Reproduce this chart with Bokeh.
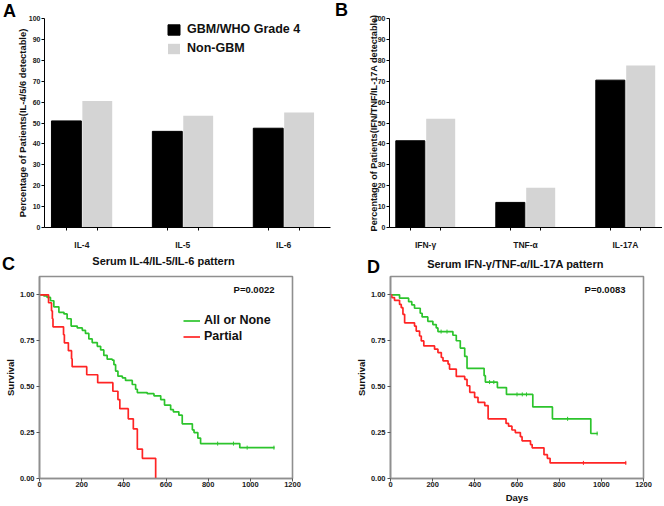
import numpy as np
from bokeh.plotting import figure
from bokeh.layouts import column, row
from bokeh.models import (Range1d, FixedTicker, Label, Legend, LegendItem,
                          NumeralTickFormatter)
from bokeh.embed import file_html
from bokeh.resources import INLINE

FONT = "Liberation Sans"

# ---------------- data ----------------
cats_a = ["IL-4", "IL-5", "IL-6"]
gbm_a = [51.0, 46.0, 47.5]
non_a = [60.5, 53.5, 55.0]

cats_b = ["IFN-γ", "TNF-α", "IL-17A"]
gbm_b = [41.5, 12.0, 70.5]
non_b = [52.0, 19.0, 77.5]

series_names = ["GBM/WHO Grade 4", "Non-GBM"]

# Panel C : Serum IL-4/IL-5/IL-6 pattern
c_all_t = [0, 20, 36, 52, 68, 92, 116, 131, 150, 179, 203, 218, 234, 250, 274, 290,
           305, 321, 345, 353, 361, 372, 393, 408, 440, 456, 464, 511, 543, 575, 593,
           622, 635, 661, 677, 725, 733, 751, 764, 950, 1115]
c_all_s = [1.0, .995, .986, .968, .935, .905, .896, .87, .83, .82, .807, .79, .76, .74,
           .72, .70, .67, .65, .645, .62, .585, .557, .548, .534, .512, .486, .468, .462,
           .45, .43, .40, .375, .363, .345, .298, .265, .25, .22, .19, .168, .168]
c_part_t = [0, 43, 57, 61, 64, 114, 118, 137, 152, 155, 224, 276, 348, 372, 381, 421,
            445, 464, 488, 551]
c_part_s = [1.0, .957, .913, .87, .826, .783, .739, .696, .652, .609, .565, .522, .475,
            .43, .38, .325, .27, .16, .11, 0.0]
c_all_cens_t = [845, 920, 985, 1112]
c_all_cens_s = [.19, .19, .168, .168]

# Panel D : Serum IFN-γ/TNF-α/IL-17A pattern
d_all_t = [0, 43, 86, 101, 114, 141, 150, 177, 201, 217, 225, 296, 312, 331, 352, 363,
           444, 450, 507, 550, 675, 768, 950, 983]
d_all_s = [1.0, .982, .963, .945, .927, .90, .88, .856, .838, .82, .80, .78, .75, .71,
           .665, .60, .56, .525, .495, .458, .39, .325, .245, .245]
d_part_t = [0, 6, 19, 43, 51, 59, 67, 114, 122, 138, 146, 158, 209, 225, 241, 249, 273,
            280, 312, 352, 363, 376, 399, 415, 447, 463, 548, 560, 576, 592, 616, 624,
            664, 672, 728, 744, 757, 1118]
d_part_s = [1.0, .985, .97, .948, .93, .894, .848, .83, .803, .776, .749, .722, .704,
            .686, .659, .641, .623, .596, .556, .54, .505, .469, .442, .415, .397, .325,
            .30, .285, .264, .25, .228, .205, .185, .167, .13, .11, .085, .085]
d_all_cens_t = [240, 268, 470, 490, 600, 625, 645, 840, 980]
d_all_cens_s = [.80, .80, .525, .525, .458, .458, .458, .325, .245]
d_part_cens_t = [915, 1116]
d_part_cens_s = [.085, .085]

group_names = ["All or None", "Partial"]
p_values = ["P=0.0022", "P=0.0083"]

GREEN = "#2cc42c"
RED = "#ff2424"
GREY_BAR = "#d4d4d4"

H1 = 252
H2 = 253


def px_to_data(frame, xr, yr, cx, cy):
    """Convert a figure-local pixel position to data coordinates."""
    left, top, w, h = frame
    x = xr[0] + (cx - left) / w * (xr[1] - xr[0])
    y = yr[1] - (cy - top) / h * (yr[1] - yr[0])
    return x, y


def style_text_axis(ax, tick_size):
    ax.major_label_text_font = FONT
    ax.major_label_text_font_style = "bold"
    ax.major_label_text_font_size = tick_size
    ax.major_label_text_color = "#1a1a1a"
    ax.axis_label_text_font = FONT
    ax.axis_label_text_font_style = "bold"
    ax.axis_label_text_color = "#111111"


def letter_label(text, x, y):
    return Label(x=x, y=y, text=text, text_font=FONT, text_font_style="bold",
                 text_font_size="18px", text_baseline="middle", text_align="center",
                 text_color="#000000")


def bar_panel(cats, gbm, non, ylabel, ylabel_size, xr, width, bl, br, bw, off, letter,
              letter_pos, label_standoff, legend=False):
    bt, bb = 18, H1 - 227
    yr = (0, 100)
    p = figure(width=width, height=H1, x_range=Range1d(*xr), y_range=Range1d(*yr),
               output_backend="svg", toolbar_location=None,
               min_border_left=bl, min_border_right=br, min_border_top=bt,
               min_border_bottom=bb)
    p.grid.visible = False
    p.outline_line_color = None
    x = np.arange(len(cats), dtype=float)
    r1 = p.vbar(x=x - off, top=gbm, width=bw, fill_color="black", line_color="black",
                line_width=1)
    r2 = p.vbar(x=x + off, top=non, width=bw, fill_color=GREY_BAR, line_color=None)

    xa = p.xaxis[0]
    xa.ticker = FixedTicker(ticks=list(x), minor_ticks=list(x - off) + list(x + off))
    xa.major_label_overrides = {int(i): c for i, c in enumerate(cats)}
    xa.major_tick_out = 0
    xa.major_tick_in = 0
    xa.minor_tick_out = 3
    xa.minor_tick_in = 0
    xa.axis_line_color = "black"
    xa.minor_tick_line_color = "black"
    xa.major_label_standoff = 9
    style_text_axis(xa, "8.5px")

    ya = p.yaxis[0]
    ya.ticker = FixedTicker(ticks=list(range(0, 101, 10)))
    ya.major_tick_out = 3
    ya.major_tick_in = 0
    ya.minor_tick_out = 0
    ya.minor_tick_in = 0
    ya.axis_line_color = "black"
    ya.major_tick_line_color = "black"
    ya.major_label_standoff = 1
    ya.axis_label = ylabel
    ya.axis_label_standoff = label_standoff
    style_text_axis(ya, "7px")
    ya.axis_label_text_font_size = ylabel_size

    fw = width - bl - br
    fh = H1 - bt - bb
    frame = (bl, bt, fw, fh)

    if legend:
        lg = Legend(items=[LegendItem(label=series_names[0], renderers=[r1]),
                           LegendItem(label=series_names[1], renderers=[r2])],
                    location=(122, fh - 37))
        lg.glyph_width = 15
        lg.glyph_height = 13
        lg.label_height = 13
        lg.label_width = 10
        lg.spacing = 5
        lg.padding = 0
        lg.margin = 0
        lg.label_standoff = 6
        lg.border_line_color = None
        lg.background_fill_alpha = 0
        lg.label_text_font = FONT
        lg.label_text_font_style = "bold"
        lg.label_text_font_size = "12.5px"
        lg.label_text_color = "#111111"
        p.add_layout(lg)

    lx, ly = px_to_data(frame, xr, yr, *letter_pos)
    p.add_layout(letter_label(letter, lx, ly), "left")
    return p


# A: frame 43..330 px, 18..227 px ; B: frame 389..662 px
pa = bar_panel(cats_a, gbm_a, non_a, "Percentage of Patients(IL-4/5/6 detectable)",
               "9.4px", (-0.370, 2.464), 332, 43, 2, 0.296, 0.153, "A", (8, 10), -2,
               legend=True)
pb = bar_panel(cats_b, gbm_b, non_b,
               "Percentage of Patients(IFN/TNF/IL-17A detectable)", "9.1px",
               (-0.36, 2.37), 330, 57, 0, 0.29, 0.152, "B", (9, 9), -8)


def km_panel(width, bl, br, all_t, all_s, part_t, part_s, cens, title, title_pos,
             letter, letter_pos, letter_side, pval, xlabel=None, legend=False):
    bt, bb = 24, 25
    xr, yr = (0, 1200), (0, 1.1)
    p = figure(width=width, height=H2, x_range=Range1d(*xr),
               y_range=Range1d(*yr), output_backend="svg", toolbar_location=None,
               min_border_left=bl, min_border_right=br, min_border_top=bt,
               min_border_bottom=bb)
    p.grid.visible = False
    p.outline_line_color = "#8f8f8f"
    p.outline_line_width = 1.6
    g = p.step(all_t, all_s, mode="after", line_color=GREEN, line_width=1.7)
    r = p.step(part_t, part_s, mode="after", line_color=RED, line_width=1.7)
    for (ct, cs, col) in cens:
        p.scatter(ct, cs, marker="dash", angle=np.pi / 2, size=4, line_color=col,
                  line_width=1)

    xa = p.xaxis[0]
    xa.ticker = FixedTicker(ticks=list(range(0, 1201, 200)))
    ya = p.yaxis[0]
    ya.ticker = FixedTicker(ticks=[0, 0.25, 0.5, 0.75, 1.0])
    ya.formatter = NumeralTickFormatter(format="0.00")
    for ax in (xa, ya):
        ax.axis_line_color = "#8f8f8f"
        ax.axis_line_width = 1.6
        ax.major_tick_out = 3
        ax.major_tick_in = 0
        ax.minor_tick_out = 0
        ax.minor_tick_in = 0
        ax.major_tick_line_color = "#555555"
        style_text_axis(ax, "7.5px")
        ax.axis_label_text_font_size = "9.5px"
    xa.major_label_standoff = 0
    xa.axis_label_standoff = 2
    ya.major_label_standoff = 2
    ya.axis_label_standoff = 1
    ya.axis_label = "Survival"
    if xlabel:
        xa.axis_label = xlabel

    fw = width - bl - br
    fh = H2 - bt - bb
    frame = (bl, bt, fw, fh)
    if legend:
        lg = Legend(items=[LegendItem(label=group_names[0], renderers=[g]),
                           LegendItem(label=group_names[1], renderers=[r])],
                    location=(144, fh - 69))
        lg.glyph_width = 17
        lg.glyph_height = 13
        lg.label_height = 13
        lg.label_width = 10
        lg.spacing = 2
        lg.padding = 0
        lg.margin = 0
        lg.label_standoff = 4
        lg.border_line_color = None
        lg.background_fill_alpha = 0
        lg.label_text_font = FONT
        lg.label_text_font_style = "bold"
        lg.label_text_font_size = "12.5px"
        lg.label_text_color = "#111111"
        p.add_layout(lg)

    tx, ty = px_to_data(frame, xr, yr, *title_pos)
    p.add_layout(Label(x=tx, y=ty, text=title, text_font=FONT,
                       text_font_style="bold", text_font_size="11px",
                       text_baseline="middle", text_align="center",
                       text_color="#111111"), "above")
    p.add_layout(Label(x=235, y=fh - 15, x_units="screen", y_units="screen",
                       text=pval, text_font=FONT, text_font_style="bold",
                       text_font_size="9.5px", text_baseline="middle",
                       text_align="right", text_color="#111111"))
    lx, ly = px_to_data(frame, xr, yr, *letter_pos)
    p.add_layout(letter_label(letter, lx, ly), letter_side)
    return p


pc = km_panel(332, 39, 40, c_all_t, c_all_s, c_part_t, c_part_s,
              [(c_all_cens_t, c_all_cens_s, GREEN)],
              "Serum IL-4/IL-5/IL-6 pattern", (163, 8), "C", (8, 11), "right",
              p_values[0], legend=True)
pd_ = km_panel(330, 58, 19, d_all_t, d_all_s, d_part_t, d_part_s,
               [(d_all_cens_t, d_all_cens_s, GREEN), (d_part_cens_t, d_part_cens_s, RED)],
               "Serum IFN-γ/TNF-α/IL-17A pattern", (183, 11), "D", (41, 14), "left",
               p_values[1], xlabel="Days")

layout = column(row(pa, pb), row(pc, pd_))

open("out.html", "w").write(file_html(layout, INLINE))
